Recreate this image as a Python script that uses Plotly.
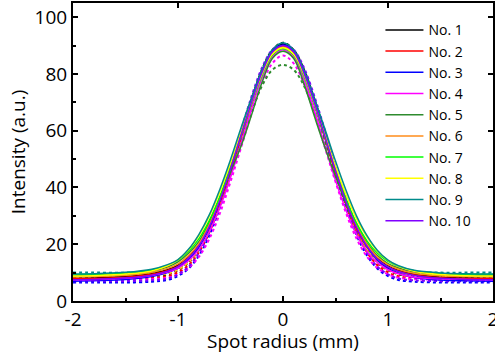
import plotly.graph_objects as go

x_mm = [-2, -1.75, -1.5, -1.25, -1.1, -1.0, -0.9, -0.8, -0.7, -0.6, -0.5, -0.4, -0.3, -0.2, -0.1, 0,
        0.1, 0.2, 0.3, 0.4, 0.5, 0.6, 0.7, 0.8, 0.9, 1.0, 1.1, 1.25, 1.5, 1.75, 2]

names = ["No. 1", "No. 2", "No. 3", "No. 4", "No. 5", "No. 6", "No. 7", "No. 8", "No. 9", "No. 10"]
colors = ["#000000", "#ff0000", "#0000ff", "#ff00ff", "#2e8b2e", "#ff8c1a", "#00ff00", "#ffff00", "#008b8b", "#8000ff"]

# measured profiles (solid)
meas_1 = [8.0, 8.2, 8.6, 9.6, 11.0, 12.6, 15.5, 19.8, 26.5, 35.5, 46.5, 58.5, 70, 80.5, 88, 90.5, 88, 80.5, 70, 58, 46, 35, 26, 19.5, 15, 12.3, 10.8, 9.4, 8.4, 8.1, 8.0]
meas_2 = [7.8, 8.0, 8.4, 9.4, 10.8, 12.3, 15.2, 19.5, 26, 35, 46, 58, 69.5, 80, 87.3, 89.8, 87.3, 79.8, 69.3, 57.5, 45.5, 34.5, 25.5, 19, 14.6, 12, 10.5, 9.2, 8.2, 7.9, 7.8]
meas_3 = [7.0, 7.2, 7.6, 8.6, 10.0, 11.6, 14.6, 19, 26, 35.5, 46.8, 59, 70.5, 81, 88, 90.2, 88.2, 81, 70.8, 59, 47, 35.8, 26.3, 19.2, 14.4, 11.5, 9.8, 8.3, 7.4, 7.1, 7.0]
meas_4 = [7.5, 7.6, 8.0, 9.0, 10.2, 11.6, 14.2, 18.2, 24.5, 33, 43.5, 55.5, 67.5, 78.5, 86, 88.5, 86, 78, 67, 54.5, 42.5, 32, 23.5, 17.5, 13.5, 11, 9.6, 8.4, 7.8, 7.6, 7.5]
meas_5 = [9.0, 9.2, 9.6, 10.6, 12.0, 13.8, 16.8, 21, 28, 36.5, 45.5, 54.5, 65.5, 77, 85.5, 88, 85.5, 76.5, 65, 54, 44, 34.5, 26.5, 20.5, 16, 13.2, 11.6, 10.2, 9.4, 9.1, 9.0]
meas_6 = [8.5, 8.7, 9.1, 10.1, 11.5, 13.1, 16, 20.3, 27, 36, 47, 58.5, 69.5, 80, 87.3, 89.5, 87.3, 79.8, 69.3, 58, 46.5, 35.5, 26.5, 20, 15.5, 12.8, 11.2, 9.8, 8.9, 8.6, 8.5]
meas_7 = [9.3, 9.5, 9.9, 10.9, 12.5, 14.3, 17.5, 22, 28.5, 37, 47.5, 58.5, 69.5, 79.5, 86.8, 89, 86.8, 79.3, 69, 57.8, 46.5, 36, 27.5, 21.2, 16.8, 14, 12.2, 10.7, 9.7, 9.4, 9.3]
meas_8 = [8.8, 9.0, 9.5, 10.6, 12.4, 14.5, 18, 23, 30, 38.5, 48.5, 59.5, 70, 80, 87, 89.2, 87, 79.8, 69.5, 58.5, 47.5, 37.5, 29, 22.5, 17.5, 14.3, 12.2, 10.5, 9.3, 8.9, 8.8]
meas_9 = [9.5, 9.7, 10.1, 11.2, 12.8, 14.6, 18.2, 23.5, 30.5, 39.5, 49.8, 61, 71.5, 81.5, 88.5, 91, 88.5, 81.3, 71.2, 60.5, 49.3, 39, 30, 23, 17.8, 14.4, 12.4, 10.8, 9.9, 9.6, 9.5]
meas_10 = [7.5, 7.7, 8.1, 9.1, 10.5, 12.1, 15.1, 19.5, 26.3, 35.5, 46.5, 58.5, 70, 80.5, 87.8, 90, 87.8, 80.3, 69.8, 58, 46, 35, 26, 19.3, 14.7, 12, 10.4, 9.0, 8.0, 7.6, 7.5]

# fitted profiles (dotted)
fit_1 = [8.5, 8.5, 8.5, 8.8, 9.4, 10.9, 13.5, 18.2, 25.5, 35.0, 46.5, 59.0, 71.0, 81.5, 88.5, 91.0, 88.5, 81.5, 71.0, 59.0, 46.5, 35.0, 25.5, 18.2, 13.5, 10.9, 9.4, 8.8, 8.5, 8.5, 8.5]
fit_2 = [7.8, 7.8, 7.8, 8.1, 8.7, 10.1, 12.6, 17.2, 24.3, 33.8, 45.2, 57.5, 69.5, 80.0, 87.0, 89.5, 87.0, 80.0, 69.5, 57.5, 45.2, 33.8, 24.3, 17.2, 12.6, 10.1, 8.7, 8.1, 7.8, 7.8, 7.8]
fit_3 = [6.5, 6.5, 6.5, 6.8, 7.4, 8.8, 11.4, 16.0, 23.2, 33.0, 44.5, 57.0, 69.3, 79.8, 86.8, 89.3, 86.8, 79.8, 69.3, 57.0, 44.5, 33.0, 23.2, 16.0, 11.4, 8.8, 7.4, 6.8, 6.5, 6.5, 6.5]
fit_4 = [7.5, 7.5, 7.5, 7.7, 8.2, 9.4, 11.6, 15.6, 22.0, 31.0, 42.0, 54.0, 66.0, 76.5, 83.8, 86.5, 83.8, 76.5, 66.0, 54.0, 42.0, 31.0, 22.0, 15.6, 11.6, 9.4, 8.2, 7.7, 7.5, 7.5, 7.5]
fit_5 = [9.2, 9.2, 9.2, 9.5, 10.1, 11.5, 14.0, 18.4, 25.0, 34.0, 44.5, 55.5, 66.5, 75.8, 81.5, 83.2, 81.5, 75.8, 66.5, 55.5, 44.5, 34.0, 25.0, 18.4, 14.0, 11.5, 10.1, 9.5, 9.2, 9.2, 9.2]
fit_6 = [8.7, 8.7, 8.7, 9.0, 9.6, 11.0, 13.6, 18.2, 25.3, 34.8, 46.0, 58.2, 70.0, 80.5, 87.3, 89.8, 87.3, 80.5, 70.0, 58.2, 46.0, 34.8, 25.3, 18.2, 13.6, 11.0, 9.6, 9.0, 8.7, 8.7, 8.7]
fit_7 = [9.4, 9.4, 9.4, 9.7, 10.3, 11.7, 14.3, 18.8, 25.8, 35.0, 46.0, 58.0, 69.5, 79.5, 86.2, 88.6, 86.2, 79.5, 69.5, 58.0, 46.0, 35.0, 25.8, 18.8, 14.3, 11.7, 10.3, 9.7, 9.4, 9.4, 9.4]
fit_8 = [9.0, 9.0, 9.0, 9.3, 9.9, 11.4, 14.0, 18.6, 25.7, 35.2, 46.3, 58.4, 70.0, 80.2, 86.9, 89.3, 86.9, 80.2, 70.0, 58.4, 46.3, 35.2, 25.7, 18.6, 14.0, 11.4, 9.9, 9.3, 9.0, 9.0, 9.0]
fit_9 = [10.0, 10.0, 10.0, 10.3, 10.9, 12.4, 15.0, 19.6, 26.6, 36.0, 47.0, 59.2, 70.8, 81.0, 87.8, 90.3, 87.8, 81.0, 70.8, 59.2, 47.0, 36.0, 26.6, 19.6, 15.0, 12.4, 10.9, 10.3, 10.0, 10.0, 10.0]
fit_10 = [7.0, 7.0, 7.0, 7.3, 7.9, 9.4, 12.1, 17.0, 24.6, 34.8, 47.0, 60.0, 72.0, 82.2, 88.6, 90.6, 88.6, 82.2, 72.0, 60.0, 47.0, 34.8, 24.6, 17.0, 12.1, 9.4, 7.9, 7.3, 7.0, 7.0, 7.0]

measured = [meas_1, meas_2, meas_3, meas_4, meas_5, meas_6, meas_7, meas_8, meas_9, meas_10]
fitted = [fit_1, fit_2, fit_3, fit_4, fit_5, fit_6, fit_7, fit_8, fit_9, fit_10]

x_ticks = [-2, -1, 0, 1, 2]
y_ticks = [0, 20, 40, 60, 80, 100]

FONT = "Open Sans"
fig = go.Figure()

for nm, col, fy in zip(names, colors, fitted):
    fig.add_trace(go.Scatter(x=x_mm, y=fy, mode="lines", showlegend=False,
                             line=dict(color=col, width=2, dash="dot", shape="spline")))
for nm, col, my in zip(names, colors, measured):
    fig.add_trace(go.Scatter(x=x_mm, y=my, mode="lines", name=nm,
                             line=dict(color=col, width=1.5, shape="spline")))

# dummy trace for mirrored axes
fig.add_trace(go.Scatter(x=[None], y=[None], xaxis="x2", yaxis="y2", showlegend=False))

axis_common = dict(showgrid=False, zeroline=False, showline=True, linecolor="black", linewidth=2,
                   ticks="inside", ticklen=5, tickwidth=1.5, tickcolor="black", automargin=False)

fig.update_layout(
    width=495, height=354,
    margin=dict(l=73, r=2, t=3, b=53),
    paper_bgcolor="white", plot_bgcolor="white",
    font=dict(family=FONT, size=15, color="black"),
    xaxis=dict(range=[-2, 2], tickvals=x_ticks, ticktext=[str(v) for v in x_ticks],
               title=dict(text="Spot radius (mm)", standoff=4, font=dict(size=19)),
               minor=dict(ticks="inside", ticklen=3, tickwidth=1.5, tickcolor="black", dtick=0.5),
               tickfont=dict(size=19), ticklabeloverflow="allow", **axis_common),
    yaxis=dict(range=[0, 105], tickvals=y_ticks, ticktext=[str(v) for v in y_ticks],
               title=dict(text="Intensity (a.u.)", standoff=4, font=dict(size=19)),
               minor=dict(ticks="inside", ticklen=3, tickwidth=1.5, tickcolor="black", dtick=10),
               tickfont=dict(size=19), **axis_common),
    xaxis2=dict(range=[-2, 2], overlaying="x", side="top", tickvals=x_ticks, showticklabels=False,
                **axis_common),
    yaxis2=dict(range=[0, 105], overlaying="y", side="right", tickvals=y_ticks, showticklabels=False,
                **axis_common),
    legend=dict(x=0.732, y=0.962, xanchor="left", yanchor="top", bgcolor="rgba(0,0,0,0)",
                font=dict(size=14), itemwidth=38, tracegroupgap=0),
)

fig.write_html("out.html", config={"displayModeBar": False},
               post_script="document.body.style.margin='0';document.body.style.overflow='hidden';")
